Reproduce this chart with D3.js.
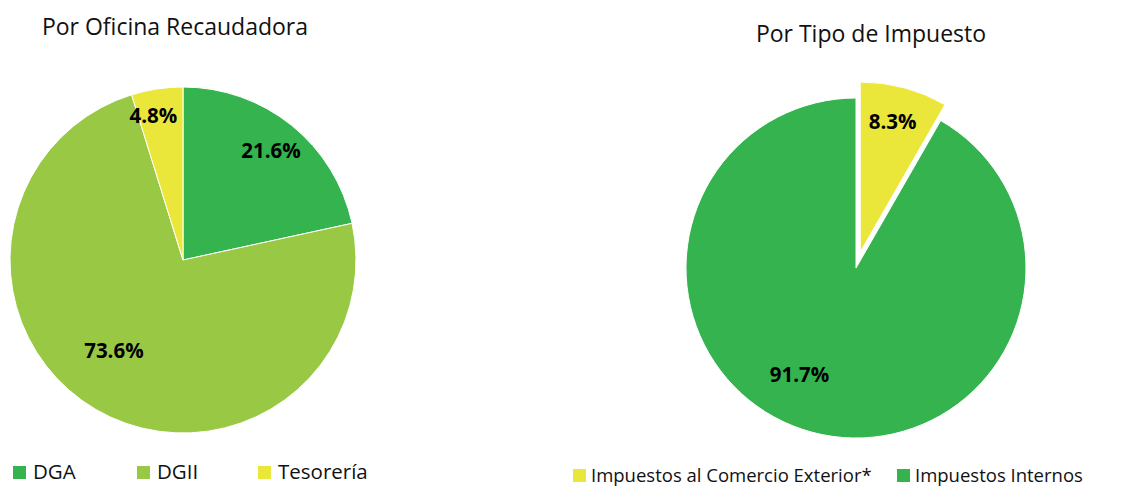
<!DOCTYPE html>
<html>
<head>
<meta charset="utf-8">
<script src="https://cdn.jsdelivr.net/npm/d3@7"></script>
<style>
  body { margin: 0; background: #fff; }
  text { font-family: "Open Sans", "Noto Sans", sans-serif; }
</style>
</head>
<body>
<div id="chart"></div>
<script>
const width = 1147, height = 487;

// left pie: por oficina recaudadora
const oficinas = ["DGA", "DGII", "Tesorería"];
const oficinaValues = [21.6, 73.6, 4.8];
const oficinaColors = ["#34b34e", "#99c944", "#ebe73a"];

// right pie: por tipo de impuesto
const tipos = ["Impuestos al Comercio Exterior*", "Impuestos Internos"];
const tipoValues = [8.3, 91.7];
const tipoColors = ["#ebe73a", "#34b34e"];

// label placement (fraction of radius, angle nudge in degrees)
const oficinaLabelPos = [[0.81, 0], [0.66, 7], [0.85, -3]];
const tipoLabelPos = [[0.79, -1], [0.71, 13]];

const svg = d3.select("#chart").append("svg")
    .attr("width", width)
    .attr("height", height);

function drawPie(opts) {
    const pie = d3.pie().sort(null).value(d => d)(opts.values);
    const arc = d3.arc().innerRadius(0).outerRadius(opts.r);
    const g = svg.append("g")
        .attr("transform", "translate(" + opts.cx + "," + opts.cy + ")");

    const slice = g.selectAll("g.slice")
        .data(pie)
        .enter().append("g")
        .attr("class", "slice")
        .attr("transform", (d, i) => {
            const off = opts.explode[i] || 0;
            if (!off) return null;
            const a = (d.startAngle + d.endAngle) / 2;
            return "translate(" + (Math.sin(a) * off) + "," + (-Math.cos(a) * off) + ")";
        });

    slice.append("path")
        .attr("d", arc)
        .attr("fill", (d, i) => opts.colors[i])
        .attr("stroke", "#fff")
        .attr("stroke-width", opts.stroke);

    slice.append("text")
        .attr("transform", (d, i) => {
            const p = opts.labelPos[i];
            const a = (d.startAngle + d.endAngle) / 2 + p[1] * Math.PI / 180;
            const rr = opts.r * p[0];
            return "translate(" + (Math.sin(a) * rr) + "," + (-Math.cos(a) * rr) + ")";
        })
        .attr("text-anchor", "middle")
        .attr("dy", "0.36em")
        .style("font-weight", "bold")
        .style("font-size", "20.5px")
        .attr("fill", "#000")
        .text(d => d.data.toFixed(1) + "%");

    svg.append("text")
        .attr("x", opts.titleX)
        .attr("y", opts.titleY)
        .attr("text-anchor", "middle")
        .style("font-size", "23px")
        .attr("fill", "#111")
        .text(opts.title);

    const leg = svg.append("g").selectAll("g")
        .data(opts.names)
        .enter().append("g")
        .attr("transform", (d, i) => "translate(" + opts.legendX[i] + "," + opts.legendY + ")");
    leg.append("rect")
        .attr("width", 13)
        .attr("height", 13)
        .attr("y", -13)
        .attr("fill", (d, i) => opts.colors[i]);
    leg.append("text")
        .attr("x", opts.legendGap)
        .attr("y", 0)
        .style("font-size", opts.legendSize)
        .attr("fill", "#111")
        .text(d => d);
}

drawPie({
    cx: 183, cy: 260, r: 173,
    values: oficinaValues, colors: oficinaColors, names: oficinas,
    labelPos: oficinaLabelPos, explode: [0, 0, 0], stroke: 1,
    title: "Por Oficina Recaudadora", titleX: 175, titleY: 35,
    legendX: [13, 137, 258], legendY: 479, legendSize: "20.5px", legendGap: 20
});

drawPie({
    cx: 856, cy: 268, r: 170,
    values: tipoValues, colors: tipoColors, names: tipos,
    labelPos: tipoLabelPos, explode: [16.5, 0], stroke: 1,
    title: "Por Tipo de Impuesto", titleX: 871, titleY: 42,
    legendX: [573, 897], legendY: 482, legendSize: "18.5px", legendGap: 18
});
</script>
</body>
</html>
